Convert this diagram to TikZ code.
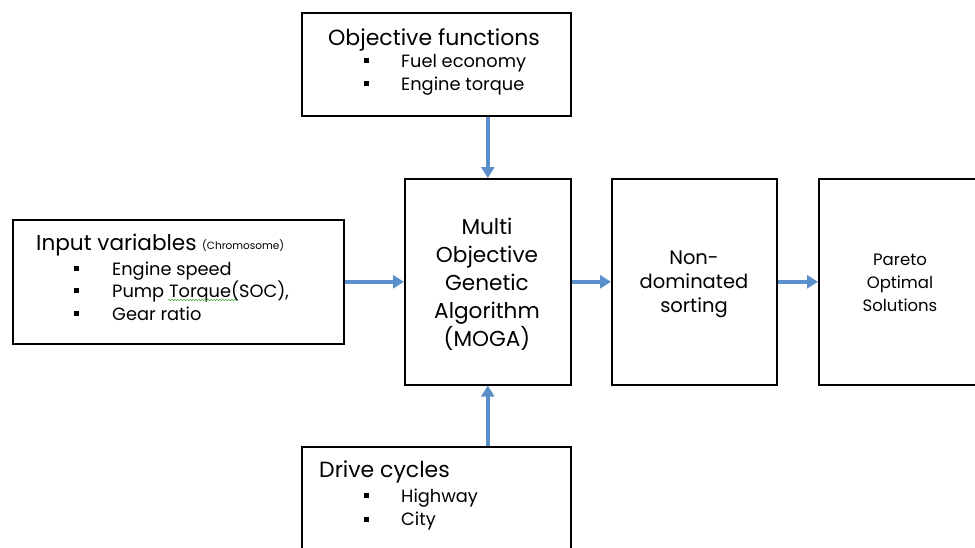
\documentclass[tikz,border=0pt]{standalone}
\usepackage{fontspec}
\setmainfont{Poppins}
\usetikzlibrary{arrows.meta,decorations.pathmorphing}
\definecolor{arrowblue}{RGB}{91,143,201}
\definecolor{squiggle}{RGB}{60,170,60}
\begin{document}
\begin{tikzpicture}[x=1pt,y=-1pt,
  box/.style={draw=black, line width=1.6pt, rectangle, inner sep=0pt, anchor=north west},
  bul/.style={fill=black, rectangle, inner sep=0pt, minimum size=5pt},
  ttl/.style={anchor=base west, inner sep=0pt, font=\fontsize{22}{26}\selectfont},
  itm/.style={anchor=base west, inner sep=0pt, font=\fontsize{17.8}{21}\selectfont},
  flow/.style={draw=arrowblue, line width=3.6pt, -{Triangle[length=11pt,width=13pt]}},
  ctr/.style={align=center, inner sep=0pt}]
\useasboundingbox (0,0) rectangle (975,547);
\fill[white] (0,0) rectangle (975,547);
% boxes
\node[box, minimum width=269pt, minimum height=103pt] (obj) at (301,12) {};
\node[box, minimum width=331pt, minimum height=124pt] (inp) at (12,219) {};
\node[box, minimum width=166pt, minimum height=206pt] (moga) at (404,178) {};
\node[box, minimum width=165pt, minimum height=206pt] (nds) at (611,178) {};
\node[box, minimum width=200pt, minimum height=206pt] (par) at (818,178) {};
\node[box, minimum width=269pt, minimum height=140pt] (drv) at (301,446) {};
% objective functions
\node[ttl] (objt) at (328,45) {Objective functions};
\node[bul] (ob1) at (366,60) {};
\node[itm] (obt1) at (401,67) {Fuel economy};
\node[bul] (ob2) at (366,83) {};
\node[itm] (obt2) at (401,90) {Engine torque};
% input variables
\node[ttl, font=\fontsize{21.6}{26}\selectfont] (inpt) at (36,250) {Input variables};
\node[anchor=base west, inner sep=0pt, font=\fontsize{10.5}{12}\selectfont] (chr) at (202,249) {(Chromosome)};
\node[bul] (ib1) at (76,268) {};
\node[itm] (it1) at (112,275) {Engine speed};
\node[bul] (ib2) at (76,290) {};
\node[itm] (it2) at (112,297) {Pump Torque(SOC),};
\node[bul] (ib3) at (76,313) {};
\node[itm] (it3) at (112,320) {Gear ratio};
\draw[squiggle, line width=0.5pt, decorate, decoration={snake, amplitude=0.7pt, segment length=3pt}] (168,300) -- (238,300);
% drive cycles
\node[ttl] (drvt) at (319,477) {Drive cycles};
\node[bul] (db1) at (366,495) {};
\node[itm] (dt1) at (401,502) {Highway};
\node[bul] (db2) at (366,519) {};
\node[itm] (dt2) at (401,525) {City};
% centre texts
\node[ctr, font=\fontsize{21.6}{28}\selectfont] (mogat) at (487,284) {Multi\\Objective\\Genetic\\Algorithm\\(MOGA)};
\node[ctr, font=\fontsize{19.5}{24}\selectfont] (ndst) at (694,284) {Non-\\dominated\\sorting};
\node[ctr, font=\fontsize{16.5}{23}\selectfont] (part) at (900,283) {Pareto\\Optimal\\Solutions};
% arrows
\draw[flow] (moga.north |- obj.south) -- (moga.north);
\draw[flow] (moga.south |- drv.north) -- (moga.south);
\draw[flow] (inp.east) -- (moga.west);
\draw[flow] (moga.east) -- (nds.west);
\draw[flow] (nds.east) -- (par.west);
\end{tikzpicture}
\end{document}
